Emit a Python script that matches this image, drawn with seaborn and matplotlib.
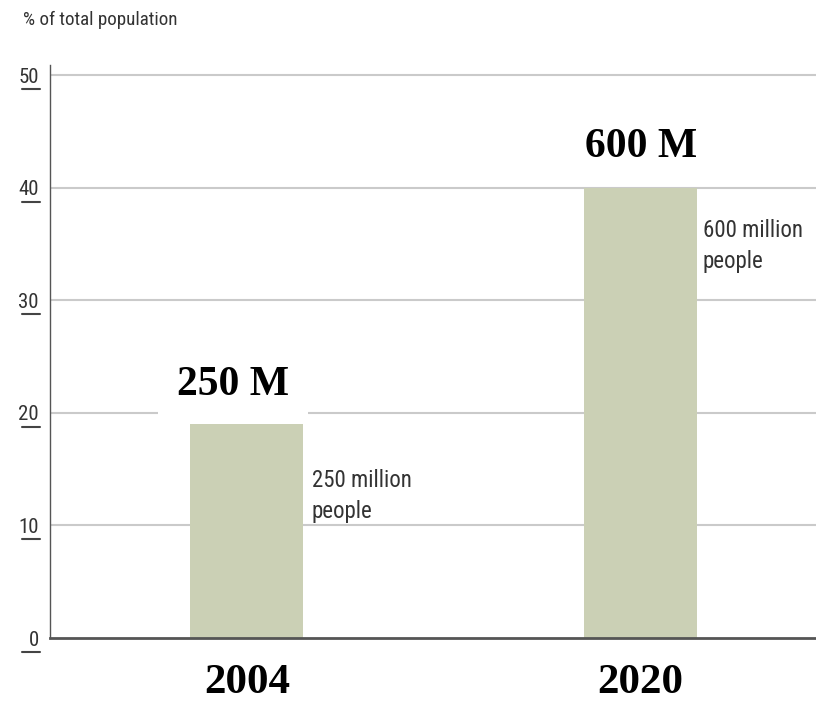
"""Bar chart: share of total population, 2004 vs 2020."""

import matplotlib
matplotlib.use("Agg")
import matplotlib.pyplot as plt
import matplotlib.transforms as mtransforms
from matplotlib import font_manager
import pandas as pd
import seaborn as sns

# data
years = ["2004", "2020"]
share_pct = [19.0, 40.0]
big_labels = ["250 M", "600 M"]
notes = ["250 million\npeople", "600 million\npeople"]
y_ticks = [0, 10, 20, 30, 40, 50]

BAR_COLOR = "#cbd0b5"
GRID_COLOR = "#cacaca"
TEXT_COLOR = "#333333"
SERIF = ["Liberation Serif", "DejaVu Serif"]


def pick_narrow_font():
    """Find a condensed sans font; the reference uses a narrow Helvetica."""
    fonts = font_manager.fontManager.ttflist
    names = {f.name for f in fonts}
    for name in ["Liberation Sans Narrow", "Roboto Condensed", "DejaVu Sans Condensed"]:
        if name in names:
            return name, "normal"
    if any(f.name == "DejaVu Sans" and f.stretch == "condensed" for f in fonts):
        return "DejaVu Sans", "condensed"
    return "Roboto", "normal"


NARROW, STRETCH = pick_narrow_font()

sns.set_theme(style="white")
plt.rcParams["font.family"] = [NARROW, "DejaVu Sans"]
plt.rcParams["font.stretch"] = STRETCH

df = pd.DataFrame({"year": years, "share": share_pct})

fig = plt.figure(figsize=(8.16, 7.01), dpi=100)
ax = fig.add_axes([50 / 816, 63 / 701, 766 / 816, 573 / 701])

sns.barplot(data=df, x="year", y="share", color=BAR_COLOR, width=0.287,
            saturation=1, linewidth=0, ax=ax, zorder=2)

ax.set_xlim(-0.5, 1.445)
ax.set_ylim(0, 50.9)

# horizontal grid lines
for t in y_ticks[1:]:
    ax.axhline(t, color=GRID_COLOR, lw=1.5, zorder=1)

for side in ["top", "right"]:
    ax.spines[side].set_visible(False)
ax.spines["left"].set_color("#555555")
ax.spines["left"].set_linewidth(1.0)
ax.spines["bottom"].set_color("#555555")
ax.spines["bottom"].set_linewidth(2.0)

ax.set_xlabel("")
ax.set_ylabel("")
ax.set_yticks(y_ticks)
ax.set_yticklabels([str(t) for t in y_ticks], fontsize=15, color=TEXT_COLOR)
ax.tick_params(axis="y", length=0, pad=8)
ax.tick_params(axis="x", length=0, pad=19)
for lab in ax.get_xticklabels():
    lab.set_fontfamily(SERIF)
    lab.set_fontstretch("normal")
    lab.set_fontweight("bold")
    lab.set_fontsize(31)
    lab.set_color("black")

# little underline under each y tick label
under = mtransforms.blended_transform_factory(ax.transAxes, ax.transData)
under = under + mtransforms.ScaledTranslation(0, -14 / 100, fig.dpi_scale_trans)
for t in y_ticks:
    ax.plot([-0.0366, -0.013], [t, t], color="#444444", lw=1.5,
            transform=under, clip_on=False)

# big labels above the bars, with white box hiding the grid
big_offsets = [(-10, 28), (0, 29)]
for i, (val, lab) in enumerate(zip(share_pct, big_labels)):
    ax.annotate(lab, xy=(i, val), xytext=big_offsets[i],
                textcoords="offset points", ha="center", va="center",
                fontsize=30, fontweight="bold", family=SERIF,
                fontstretch="normal", color="black",
                bbox=dict(boxstyle="square,pad=0.45", fc="white", ec="none"),
                zorder=5)

# notes to the right of the bars
note_offsets = [(6, -52), (4, -42)]
for i, (val, note) in enumerate(zip(share_pct, notes)):
    ax.annotate(note, xy=(i + 0.287 / 2, val), xytext=note_offsets[i],
                textcoords="offset points", ha="left", va="center",
                fontsize=16.5, color=TEXT_COLOR, linespacing=1.45, zorder=5)

fig.text(23 / 816, 1 - 20 / 701, "% of total population", fontsize=13.7,
         color=TEXT_COLOR, ha="left", va="center")

fig.savefig("out.png", dpi=100)
plt.close(fig)
